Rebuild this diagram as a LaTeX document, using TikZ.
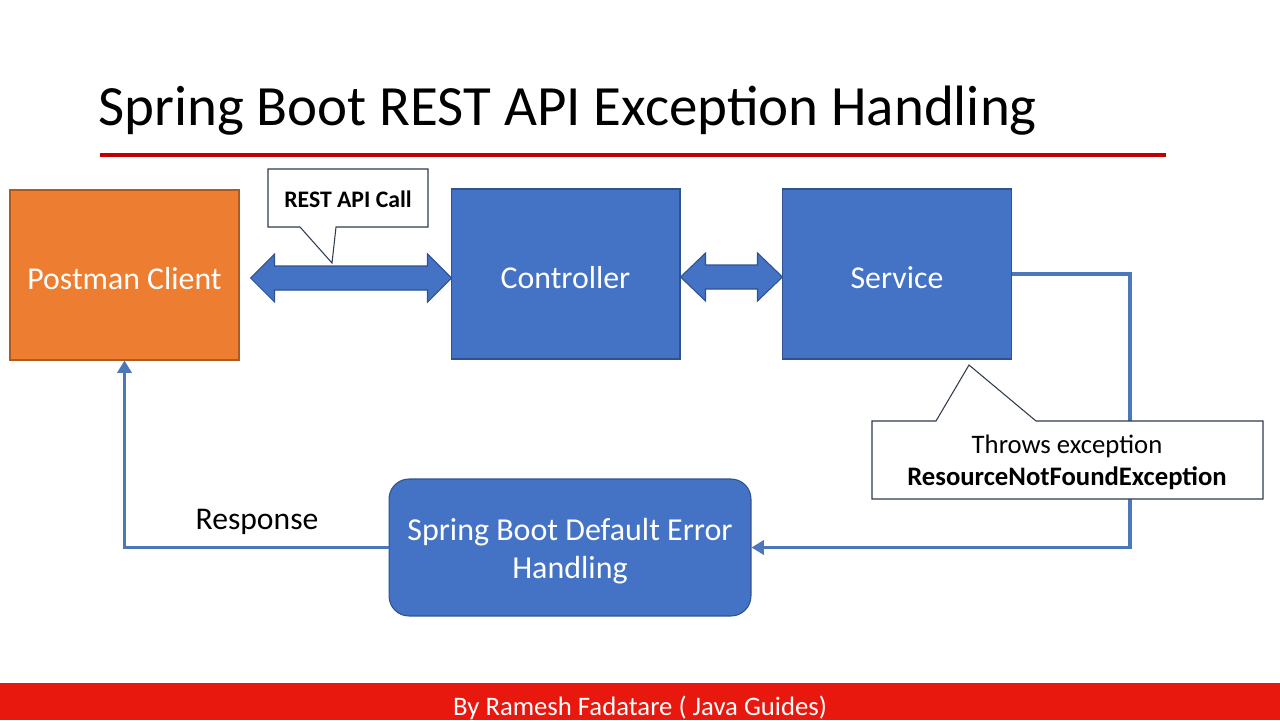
\documentclass[tikz,border=0pt]{standalone}
\usepackage{fontspec}
\setmainfont{Carlito}
\usetikzlibrary{arrows.meta,calc}
\definecolor{bfill}{HTML}{4472C4}
\definecolor{bline}{HTML}{2F528F}
\definecolor{ofill}{HTML}{ED7D31}
\definecolor{oline}{HTML}{AE5A21}
\definecolor{cline}{HTML}{4A78B8}
\definecolor{tred}{HTML}{C00000}
\definecolor{fred}{HTML}{E8180F}
\definecolor{calline}{HTML}{2E3B4E}
\tikzset{
  box/.style={draw=bline, fill=bfill, line width=0.6pt, text=white, minimum width=4.58cm, minimum height=3.4cm, text height=16.5pt, text depth=0pt, font=\fontsize{18.1}{21}\selectfont},
  obox/.style={box, draw=oline, fill=ofill},
  conn/.style={draw=cline, line width=2.2pt},
  tip/.style={-{Triangle[length=7pt,width=8pt]}},
  dbl/.style={fill=bfill, draw=bline, line width=0.6pt},
  callout/.style={fill=white, draw=calline, line width=0.6pt, line join=miter},
}
\begin{document}
\begin{tikzpicture}[x=0.02cm,y=-0.02cm]
\useasboundingbox (0,0) rectangle (1280,720);
\fill[white] (0,0) rectangle (1280,720);
% title
\node[anchor=base west, inner sep=0pt, font=\fontsize{32.4}{38}\selectfont] (title) at (98,125) {Spring Boot REST API Exception Handling};
\fill[tred] (100,153) rectangle (1166,157);
% boxes
\node[obox] (postman) at (124.5,275) {Postman Client};
\node[box] (controller) at (565.5,274) {Controller};
\node[box] (service) at (897,274) {Service};
\node[box, minimum width=7.24cm, minimum height=2.74cm, rounded corners=0.4cm] (errh) at (570,547.5) {};
\node[text=white, align=center, font=\fontsize{18.2}{21.6}\selectfont] (errhtxt) at (570,551) {Spring Boot Default Error\\Handling};
% double arrows
\coordinate (a1l) at ($(postman.east)+(11,3)$);
\coordinate (a2l) at ($(controller.east)+(0,3)$);
\draw[dbl] (a1l) -- ++(24,-24) -- ++(0,12) -- ++(153,0) -- ++(0,-12) -- ++(24,24) -- ++(-24,24) -- ++(0,-12) -- ++(-153,0) -- ++(0,12) -- cycle;
\draw[dbl] (a2l) -- ++(25,-24) -- ++(0,12) -- ++(52,0) -- ++(0,-12) -- ++(25,24) -- ++(-25,24) -- ++(0,-12) -- ++(-52,0) -- ++(0,12) -- cycle;
% connectors
\coordinate (c1) at (1130,274);
\draw[conn, tip] (service.east) -- (c1) |- (errh.east);
\draw[conn, tip] (errh.west) -| (postman.south);
\node[font=\fontsize{18}{21}\selectfont] (resp) at (257,522) {Response};
% callouts
\draw[callout] (268,169) -- (428,169) -- (428,227) -- (336,227) -- (332,263) -- (300,227) -- (268,227) -- cycle;
\node[font=\bfseries\fontsize{13.5}{16}\selectfont] (restc) at (348,199) {REST API Call};
\draw[callout] (872,421) -- (936,421) -- (969,365) -- (1036,421) -- (1263,421) -- (1263,499) -- (872,499) -- cycle;
\node[align=center, font=\fontsize{15.2}{18.2}\selectfont] (throws) at (1067,462) {Throws exception\\\textbf{ResourceNotFoundException}};
% footer
\fill[fred] (0,683) rectangle (1280,720);
\node[text=white, font=\fontsize{15.2}{17}\selectfont] (footer) at (640,708) {By Ramesh Fadatare ( Java Guides)};
\end{tikzpicture}
\end{document}
